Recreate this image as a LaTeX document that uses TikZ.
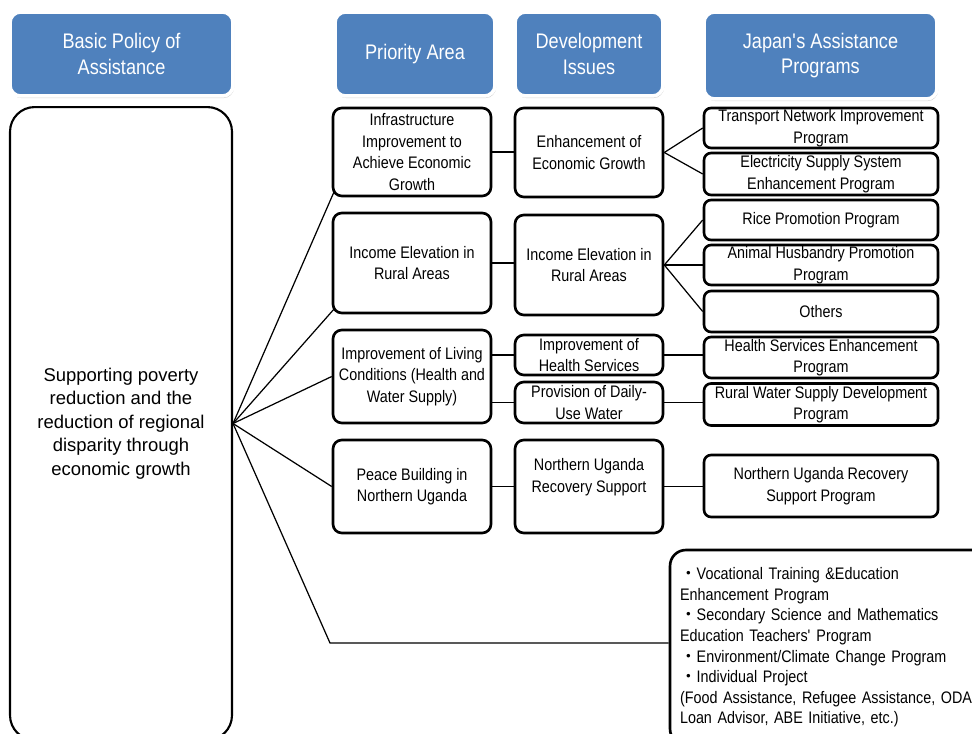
\documentclass[tikz,border=0pt]{standalone}
\usepackage{fontspec}
\setmainfont{Liberation Sans}
\newfontfamily\narrowfont{Liberation Sans}[FakeStretch=0.86]
\newfontfamily\cjkfont{Noto Sans CJK JP}
\usetikzlibrary{calc,shadows}
\definecolor{hdrblue}{HTML}{4F81BD}

\begin{document}
\begin{tikzpicture}[x=0.02cm, y=-0.02cm,
  hdr/.style={rectangle, rounded corners=6pt, draw=white, line width=2pt,
    fill=hdrblue, text=white, align=center, inner sep=0pt,
    font=\narrowfont\fontsize{12}{14.5}\selectfont,
    drop shadow={shadow xshift=0.6pt, shadow yshift=-1.2pt, opacity=0.35}},
  areabox/.style={rectangle, rounded corners=5pt, draw=black, line width=1.5pt,
    align=center, inner sep=0pt, font=\narrowfont\fontsize{9.5}{12.3}\selectfont},
  prio/.style={areabox, minimum width=3.16cm},
  issue/.style={areabox, minimum width=2.96cm},
  progbox/.style={areabox, rounded corners=4pt, minimum width=4.68cm},
  conn/.style={line width=0.7pt}]
\useasboundingbox (0,0) rectangle (972,733);
\clip (0,0) rectangle (972,733);
% ---------------- column headers ----------------
\node[hdr, minimum width=4.46cm, minimum height=1.68cm] (hpolicy) at (121.5,54)
  {Basic Policy of\\Assistance};
\node[hdr, minimum width=3.2cm, minimum height=1.68cm] (harea) at (415,54)
  {Priority Area};
\node[hdr, minimum width=2.96cm, minimum height=1.68cm] (hissue) at (589,54)
  {Development\\Issues};
\node[hdr, minimum width=4.66cm, minimum height=1.74cm] (hprog) at (820.5,55.5)
  {Japan\textquotesingle s Assistance\\Programs};
% ---------------- basic policy ----------------
\node[areabox, line width=1.2pt, rounded corners=14pt, minimum width=4.44cm,
  minimum height=12.66cm, font=\fontsize{10.5}{13.4}\selectfont] (policy) at (121,423.5)
  {Supporting poverty\\reduction and the\\reduction of regional\\disparity through\\economic growth};
% ---------------- priority areas ----------------
\node[prio, minimum height=1.76cm] (pa1) at (412,152)
  {Infrastructure\\Improvement to\\Achieve Economic\\Growth};
\node[prio, minimum height=2cm] (pa2) at (412,263)
  {Income Elevation in\\Rural Areas};
\node[prio, minimum height=1.86cm] (pa3) at (412,376.5)
  {Improvement of Living\\Conditions (Health and\\Water Supply)};
\node[prio, minimum height=1.86cm] (pa4) at (412,486.5)
  {Peace Building in\\Northern Uganda};
% ---------------- development issues ----------------
\node[issue, minimum height=1.78cm] (di1) at (589,152.5)
  {Enhancement of\\Economic Growth};
\node[issue, minimum height=2cm] (di2) at (589,265)
  {Income Elevation in\\Rural Areas};
\node[issue, minimum height=0.8cm] (di3) at (589,355)
  {Improvement of\\Health Services};
\node[issue, minimum height=0.82cm] (di4) at (589,402.5)
  {Provision of Daily-\\Use Water};
\node[issue, minimum height=1.86cm] (di5) at (589,486.5)
  {Northern Uganda\\Recovery Support\\\mbox{}};
% ---------------- assistance programs ----------------
\node[progbox, minimum height=0.8cm] (jp1) at (821,128)
  {Transport Network Improvement\\Program};
\node[progbox, minimum height=0.84cm] (jp2) at (821,174)
  {Electricity Supply System\\Enhancement Program};
\node[progbox, minimum height=0.8cm] (jp3) at (821,220)
  {Rice Promotion Program};
\node[progbox, minimum height=0.8cm] (jp4) at (821,265)
  {Animal Husbandry Promotion\\Program};
\node[progbox, minimum height=0.82cm] (jp5) at (821,311.5)
  {Others};
\node[progbox, minimum height=0.82cm] (jp6) at (821,357.5)
  {Health Services Enhancement\\Program};
\node[progbox, minimum height=0.84cm] (jp7) at (821,404.5)
  {Rural Water Supply Development\\Program};
\node[progbox, minimum height=1.24cm] (jp8) at (821,486)
  {Northern Uganda Recovery\\Support Program};
\node[areabox, rounded corners=9pt, minimum width=6.4cm, minimum height=3.9cm,
  text width=6cm, align=left, font=\narrowfont\fontsize{9.5}{11.7}\selectfont]
  (others) at (830,647.5)
  {{\cjkfont ・}Vocational Training \&Education\\
   Enhancement Program\\
   {\cjkfont ・}Secondary Science and Mathematics\\
   Education Teachers\textquotesingle{} Program\\
   {\cjkfont ・}Environment/Climate Change Program\\
   {\cjkfont ・}Individual Project\\
   (Food Assistance, Refugee Assistance, ODA\\
   Loan Advisor, ABE Initiative, etc.)};
% ---------------- connectors ----------------
\coordinate (bend) at (330,643);
\draw[conn] (policy.east) -- ($(pa1.south west)+(3,-7)$);
\draw[conn] (policy.east) -- ($(pa2.south west)+(3,-6)$);
\draw[conn] (policy.east) -- (pa3.west);
\draw[conn] (policy.east) -- (pa4.west);
\draw[conn] (policy.east) -- (bend) -- (bend -| others.west);
\draw[conn] (pa1.east) -- (pa1.east -| di1.west);
\draw[conn] (pa2.east) -- (pa2.east -| di2.west);
\draw[conn] (di3.west -| pa3.east) -- (di3.west);
\draw[conn] (di4.west -| pa3.east) -- (di4.west);
\draw[conn] (pa4.east) -- (pa4.east -| di5.west);
\draw[conn] (di1.east) -- (jp1.west);
\draw[conn] (di1.east) -- (jp2.west);
\draw[conn] (di2.east) -- (jp3.west);
\draw[conn] (di2.east) -- (jp4.west);
\draw[conn] (di2.east) -- (jp5.west);
\draw[conn] (di3.east) -- (di3.east -| jp6.west);
\draw[conn] (di4.east) -- (di4.east -| jp7.west);
\draw[conn] (di5.east) -- (di5.east -| jp8.west);
\end{tikzpicture}
\end{document}
